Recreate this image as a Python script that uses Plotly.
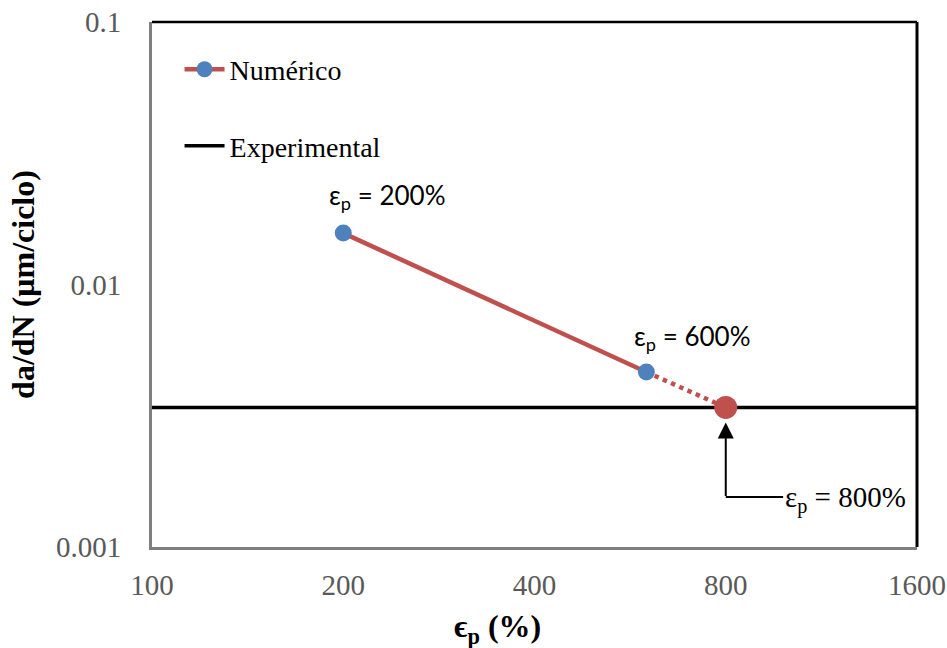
import math
import plotly.graph_objects as go

# Numerical crack growth rate vs. plastic strain
strain_num = [200, 600]
rate_num = [0.0157, 0.00464]

# Extrapolated segment to the strain where the experimental rate is reached
strain_ext = [600, 800]
rate_ext = [0.00464, 0.0034]

# Experimental crack growth rate (constant)
rate_exp = 0.0034
x_range = [100, 1600]

x_ticks = [100, 200, 400, 800, 1600]
y_ticks = [0.001, 0.01, 0.1]
y_tick_text = ["0.001", "0.01", "0.1"]

RED = "#C0504D"
BLUE = "#4F81BD"
SERIF = "Liberation Serif"
SANS = "Lato"

fig = go.Figure()

fig.add_trace(go.Scatter(
    x=x_range, y=[rate_exp, rate_exp], mode="lines",
    line=dict(color="black", width=3.5),
    name="Experimental", legendgroup="b", legendrank=2,
))
fig.add_trace(go.Scatter(
    x=strain_ext, y=rate_ext, mode="lines",
    line=dict(color=RED, width=4.5, dash="dot"),
    showlegend=False,
))
fig.add_trace(go.Scatter(
    x=strain_num, y=rate_num, mode="lines+markers",
    line=dict(color=RED, width=4.5),
    marker=dict(color=BLUE, size=17),
    name="Numérico", legendgroup="a", legendrank=1,
))
fig.add_trace(go.Scatter(
    x=[strain_ext[-1]], y=[rate_ext[-1]], mode="markers",
    marker=dict(color=RED, size=23),
    showlegend=False,
))

# Labels for numerical points
label_font = dict(family=SANS, size=26, color="black")
fig.add_annotation(x=math.log10(strain_num[0]), y=math.log10(rate_num[0]),
                   text="ε<sub>p</sub> = 200%", showarrow=False,
                   xanchor="left", yanchor="bottom", xshift=-16, yshift=17,
                   font=label_font)
fig.add_annotation(x=math.log10(strain_num[1]), y=math.log10(rate_num[1]),
                   text="ε<sub>p</sub> = 600%", showarrow=False,
                   xanchor="left", yanchor="bottom", xshift=-14, yshift=15,
                   font=label_font)

# Callout pointing at the intersection with the experimental rate
callout_y = 0.00155
callout_x_end = 985
fig.add_annotation(x=math.log10(strain_ext[-1]), y=math.log10(rate_ext[-1]),
                   ax=0, ay=90, text="", showarrow=True,
                   arrowhead=2, arrowsize=1.6, arrowwidth=2, arrowcolor="black",
                   standoff=15)
fig.add_shape(type="line", xref="x", yref="y",
              x0=strain_ext[-1], x1=callout_x_end, y0=callout_y, y1=callout_y,
              line=dict(color="black", width=2))
fig.add_annotation(x=math.log10(callout_x_end), y=math.log10(callout_y),
                   text="ε<sub>p</sub> = 800%", showarrow=False,
                   xanchor="left", yanchor="middle", xshift=0, yshift=-2,
                   font=dict(family=SERIF, size=29, color="black"))

# Black top/right frame edges
fig.add_shape(type="line", xref="paper", yref="paper", x0=0, x1=1, y0=1, y1=1,
              line=dict(color="black", width=2.5))
fig.add_shape(type="line", xref="paper", yref="paper", x0=1, x1=1, y0=0, y1=1,
              line=dict(color="black", width=3))

# x-axis title
fig.add_annotation(xref="paper", yref="paper", x=0.451, y=0, yshift=-81,
                   text="<b>ϵ<sub>p</sub> (%)</b>", showarrow=False,
                   xanchor="center", yanchor="middle",
                   font=dict(family=SERIF, size=32, color="black"))

tick_font = dict(family=SERIF, size=29, color="#595959")

fig.update_xaxes(
    type="log", range=[math.log10(x_range[0]), math.log10(x_range[1])],
    tickvals=x_ticks, ticktext=[str(v) for v in x_ticks],
    tickfont=tick_font, showgrid=False, zeroline=False,
    showline=True, linecolor="#7f7f7f", linewidth=3,
    ticks="", ticklabelstandoff=10, automargin=False,
)
fig.update_yaxes(
    type="log", range=[-3, -1],
    tickvals=y_ticks, ticktext=y_tick_text,
    tickfont=tick_font, showgrid=False, zeroline=False,
    showline=True, linecolor="#7f7f7f", linewidth=3,
    ticks="", ticklabelstandoff=22, automargin=False,
    title=dict(text="<b>da/dN (μm/ciclo)</b>", font=dict(family=SERIF, size=32, color="black"),
               standoff=12),
)

fig.update_layout(
    width=947, height=648,
    margin=dict(l=152, r=30, t=22, b=101),
    plot_bgcolor="white", paper_bgcolor="white",
    legend=dict(x=0.036, y=0.957, xanchor="left", yanchor="top",
                font=dict(family=SERIF, size=28, color="black"),
                bgcolor="rgba(0,0,0,0)", tracegroupgap=37, itemwidth=40),
    showlegend=True,
)

fig.write_html("out.html")
